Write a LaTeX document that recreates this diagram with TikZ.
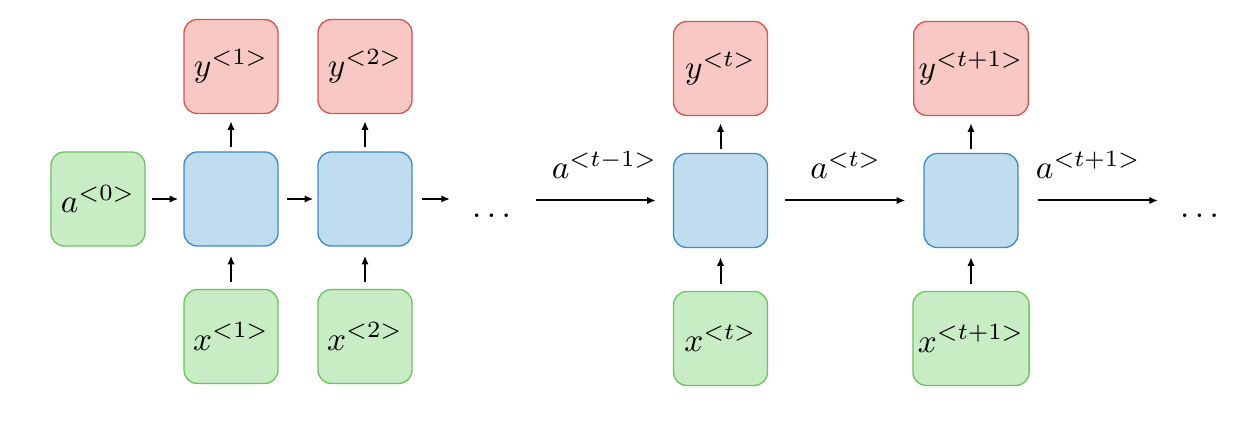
\documentclass[tikz,border=0pt]{standalone}
\usetikzlibrary{arrows.meta}
\definecolor{gfill}{HTML}{C8ECC4}
\definecolor{gdraw}{HTML}{6CC45F}
\definecolor{rfill}{HTML}{F8C9C4}
\definecolor{rdraw}{HTML}{D9534F}
\definecolor{bfill}{HTML}{C0DCEF}
\definecolor{bdraw}{HTML}{3E8BC7}
\tikzset{
  box/.style={rounded corners=4pt, minimum width=28.2pt, minimum height=28.2pt, inner xsep=1.5pt, line width=0.4pt},
  gbox/.style={box, fill=gfill, draw=gdraw},
  rbox/.style={box, fill=rfill, draw=rdraw},
  bbox/.style={box, fill=bfill, draw=bdraw},
  conn/.style={line width=0.6pt, -{Latex[length=2.6pt,width=2.2pt]}},
  lbl/.style={midway, above=6.3pt, inner sep=0pt},
  vup/.style={conn, shorten <=1.2pt, shorten >=2.1pt},
  vin/.style={conn, shorten <=2.1pt, shorten >=2.7pt}
}
\begin{document}
\begin{tikzpicture}[x=0.3pt,y=-0.3pt]
\useasboundingbox (0,0) rectangle (1258,426);
% column 0
\node[gbox] (a0) at (98,199) {$a^{<0>}$};
% column 1
\node[bbox] (c1) at (231,199) {};
\node[rbox] (y1) at (231,66.5) {$y^{<1>}$};
\node[gbox] (x1) at (231,336.5) {$x^{<1>}$};
% column 2
\node[bbox] (c2) at (365,199) {};
\node[rbox] (y2) at (365,66.5) {$y^{<2>}$};
\node[gbox] (x2) at (365,336.5) {$x^{<2>}$};
% dots
\node[inner sep=0pt] (d1) at (491.5,216) {$\ldots$};
\coordinate (e2) at (450,199);
\coordinate (s3) at (536,200.5);
% column t
\node[bbox] (ct) at (720.5,200.5) {};
\node[rbox] (yt) at (720.5,68.5) {$y^{<t>}$};
\node[gbox] (xt) at (720.5,338.5) {$x^{<t>}$};
% column t+1
\node[bbox] (cu) at (971,200.5) {};
\node[rbox] (yu) at (971,68.5) {$y^{<t+1>}$};
\node[gbox] (xu) at (971,338.5) {$x^{<t+1>}$};
\coordinate (e5) at (1158,200.5);
\node[inner sep=0pt] (d2) at (1199.5,216) {$\ldots$};
% horizontal connectors
\draw[conn, shorten <=1.8pt, shorten >=1.5pt] (a0) -- (c1);
\draw[conn, shorten <=2.4pt, shorten >=1.2pt] (c1) -- (c2);
\draw[conn, shorten <=2.7pt] (c2) -- (e2);
\draw[conn, shorten >=5.1pt] (s3) -- (ct) node[lbl] {$a^{<t-1>}$};
\draw[conn, shorten <=5.1pt, shorten >=5.4pt] (ct) -- (cu) node[lbl] {$a^{<t>}$};
\draw[conn, shorten <=5.7pt] (cu) -- (e5) node[lbl] {$a^{<t+1>}$};
% vertical connectors
\draw[vup] (c1) -- (y1);
\draw[vup] (c2) -- (y2);
\draw[vup] (ct) -- (yt);
\draw[vup] (cu) -- (yu);
\draw[vin] (x1) -- (c1);
\draw[vin] (x2) -- (c2);
\draw[vin] (xt) -- (ct);
\draw[vin] (xu) -- (cu);
\end{tikzpicture}
\end{document}
